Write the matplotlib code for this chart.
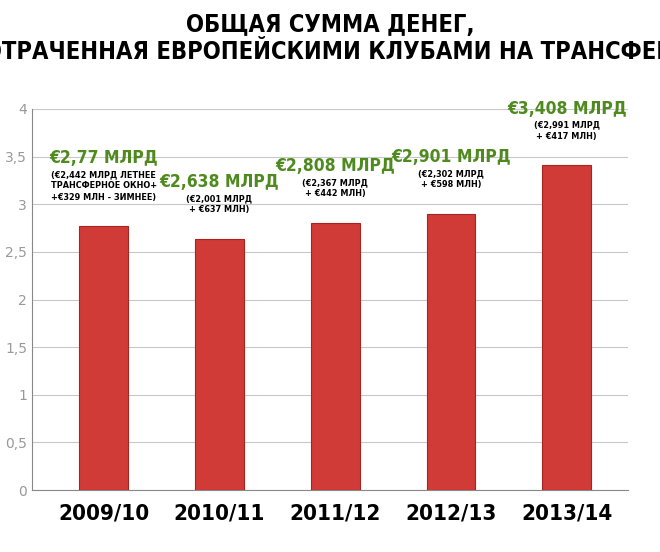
import matplotlib
matplotlib.use("Agg")
import matplotlib.pyplot as plt
import numpy as np

seasons = ["2009/10", "2010/11", "2011/12", "2012/13", "2013/14"]
totals = [2.77, 2.638, 2.808, 2.901, 3.408]
main_labels = ["€2,77 МЛРД", "€2,638 МЛРД", "€2,808 МЛРД", "€2,901 МЛРД", "€3,408 МЛРД"]
sub_labels = ["(€2,442 МЛРД ЛЕТНЕЕ\nТРАНСФЕРНОЕ ОКНО+\n+€329 МЛН - ЗИМНЕЕ)",
              "(€2,001 МЛРД\n+ €637 МЛН)",
              "(€2,367 МЛРД\n+ €442 МЛН)",
              "(€2,302 МЛРД\n+ €598 МЛН)",
              "(€2,991 МЛРД\n+ €417 МЛН)"]
yticks = [0, 0.5, 1, 1.5, 2, 2.5, 3, 3.5, 4]
ytick_labels = ["0", "0,5", "1", "1,5", "2", "2,5", "3", "3,5", "4"]

FP = dict(fontfamily="DejaVu Sans", fontstretch="condensed", fontweight="bold")
fig = plt.figure(figsize=(6.6, 5.52), dpi=100)
ax = fig.add_axes([32/660, 1-490/552, 596/660, 381/552])
x = np.arange(len(seasons))
ax.bar(x, totals, width=0.42, color="#d13b37", edgecolor="#a82420", linewidth=0.8, zorder=3)
ax.set_xlim(-0.62, 4.53)
ax.set_ylim(0, 4)
ax.set_yticks(yticks)
ax.set_yticklabels(ytick_labels, color="#999999", fontsize=10)
ax.set_xticks(x)
ax.set_xticklabels(seasons, fontsize=16, **FP)
ax.tick_params(axis="x", length=0, pad=10)
ax.tick_params(axis="y", length=0)
ax.yaxis.grid(True, color="#c8c8c8", linewidth=0.8, zorder=0)
for s in ["top", "right", "left"]:
    ax.spines[s].set_visible(False)
ax.spines["bottom"].set_color("#888888")
ax.plot([-0.62, -0.62], [0, 4], color="#888888", lw=0.8, clip_on=False)

offsets = [0.62, 0.5, 0.5, 0.5, 0.5]
for i in x:
    top = totals[i] + offsets[i]
    ax.text(i, top, main_labels[i], ha="center", va="bottom", color="#4f8a1f",
            fontsize=12.5, **FP)
    ax.text(i, top - 0.03, sub_labels[i], ha="center", va="top", color="black",
            fontsize=6.5, linespacing=1.35, **FP)

fig.text(0.5, 0.955, "ОБЩАЯ СУММА ДЕНЕГ,", ha="center", va="center", fontsize=17, **FP)
fig.text(0.5, 0.905, "ПОТРАЧЕННАЯ ЕВРОПЕЙСКИМИ КЛУБАМИ НА ТРАНСФЕРЫ", ha="center",
         va="center", fontsize=17, **FP)
fig.savefig("out.png", dpi=100)
